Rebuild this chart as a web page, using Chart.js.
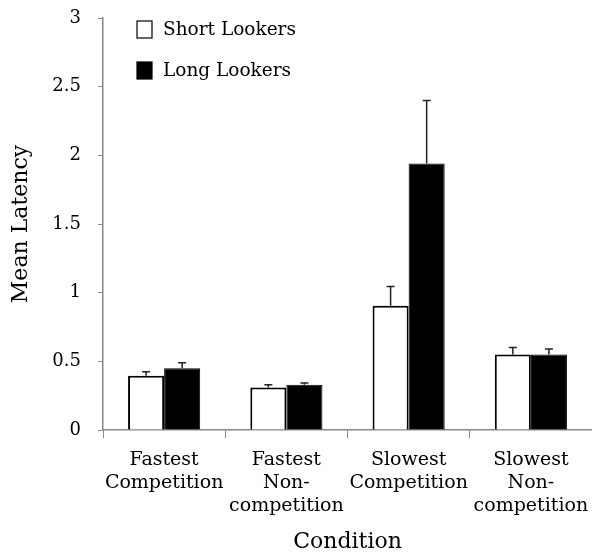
<!DOCTYPE html>
<html>
<head>
<meta charset="utf-8">
<script src="https://cdn.jsdelivr.net/npm/chart.js@4.4.0/dist/chart.umd.min.js"></script>
<style>
  html, body { margin: 0; padding: 0; background: #fff; }
  #wrap { width: 592px; height: 559px; }
</style>
</head>
<body>
<div id="wrap"><canvas id="latencyChart"></canvas></div>
<script>
const conditions = [
    ['Fastest', 'Competition'],
    ['Fastest', 'Non-', 'competition'],
    ['Slowest', 'Competition'],
    ['Slowest', 'Non-', 'competition']
];
const seriesNames = ['Short Lookers', 'Long Lookers'];
const shortLookers = [0.395, 0.31, 0.905, 0.55];
const longLookers = [0.45, 0.33, 1.94, 0.55];
const shortErr = [0.03, 0.02, 0.14, 0.05];
const longErr = [0.04, 0.012, 0.46, 0.04];
const yTicks = [0, 0.5, 1, 1.5, 2, 2.5, 3];

const FONT = 'DejaVu Serif';

// upper error bars only, like the original figure
const errorBars = {
    id: 'errorBars',
    afterDatasetsDraw(chart) {
        const ctx = chart.ctx;
        const y = chart.scales.y;
        const errs = [shortErr, longErr];
        ctx.save();
        ctx.strokeStyle = '#222';
        ctx.lineWidth = 1.5;
        chart.data.datasets.forEach((ds, i) => {
            chart.getDatasetMeta(i).data.forEach((bar, j) => {
                const top = y.getPixelForValue(ds.data[j] + errs[i][j]);
                ctx.beginPath();
                ctx.moveTo(bar.x, bar.y);
                ctx.lineTo(bar.x, top);
                ctx.moveTo(bar.x - 4, top);
                ctx.lineTo(bar.x + 4, top);
                ctx.stroke();
            });
        });
        ctx.restore();
    }
};

// legend inside the plot, top left
const boxLegend = {
    id: 'boxLegend',
    afterDraw(chart) {
        const ctx = chart.ctx;
        ctx.save();
        ctx.font = '18.5px "' + FONT + '"';
        ctx.textBaseline = 'middle';
        chart.data.datasets.forEach((ds, i) => {
            const top = 21 + i * 41;
            ctx.fillStyle = ds.backgroundColor;
            ctx.fillRect(137, top, 15, 17);
            ctx.strokeStyle = '#000';
            ctx.lineWidth = 1.2;
            ctx.strokeRect(137, top, 15, 17);
            ctx.fillStyle = '#000';
            ctx.fillText(ds.label, 163, top + 9);
        });
        ctx.restore();
    }
};

new Chart(document.getElementById('latencyChart'), {
    type: 'bar',
    data: {
        labels: conditions,
        datasets: [
            {
                label: seriesNames[0],
                data: shortLookers,
                backgroundColor: '#ffffff',
                borderColor: '#000000',
                borderWidth: 2
            },
            {
                label: seriesNames[1],
                data: longLookers,
                backgroundColor: '#000000',
                borderColor: '#000000',
                borderWidth: 1
            }
        ]
    },
    options: {
        responsive: true,
        maintainAspectRatio: false,
        animation: false,
        categoryPercentage: 0.59,
        barPercentage: 1,
        layout: { padding: { top: 18, right: 0, left: 4, bottom: 0 } },
        plugins: {
            legend: { display: false },
            tooltip: { enabled: false }
        },
        scales: {
            x: {
                afterFit: s => { s.height = 129; s.paddingLeft = 0; s.paddingRight = 0; },
                grid: {
                    offset: true,
                    drawOnChartArea: false,
                    color: '#888',
                    tickLength: 8
                },
                border: { color: '#888', width: 1.5 },
                ticks: {
                    color: '#000',
                    font: { family: FONT, size: 19 },
                    padding: 11,
                    maxRotation: 0,
                    autoSkip: false
                },
                title: {
                    display: true,
                    text: 'Condition',
                    color: '#000',
                    font: { family: FONT, size: 22 },
                    padding: { top: 20 }
                }
            },
            y: {
                min: 0,
                max: 3,
                afterFit: s => { s.width = 99; s.paddingTop = 0; s.paddingBottom = 0; },
                afterBuildTicks: s => { s.ticks = yTicks.map(v => ({ value: v })); },
                grid: {
                    drawOnChartArea: false,
                    color: '#888',
                    tickLength: 5
                },
                border: { color: '#888', width: 1.5 },
                ticks: {
                    color: '#000',
                    font: { family: FONT, size: 18 },
                    padding: 17,
                    callback: v => String(v)
                },
                title: {
                    display: true,
                    text: 'Mean Latency',
                    color: '#000',
                    font: { family: FONT, size: 22 },
                    padding: { bottom: 0 }
                }
            }
        }
    },
    plugins: [errorBars, boxLegend]
});
</script>
</body>
</html>
